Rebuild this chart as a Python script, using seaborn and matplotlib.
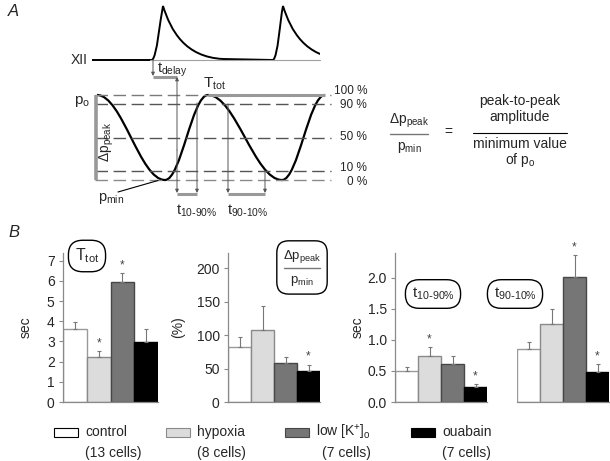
import numpy as np
import pandas as pd
import matplotlib
matplotlib.use('Agg')
import matplotlib.pyplot as plt
import seaborn as sns
from matplotlib.path import Path
from matplotlib.patches import PathPatch, Rectangle

# ---- data ----
conditions = ['control', 'hypoxia', 'low [K+]o', 'ouabain']
legend_labels = ['control', 'hypoxia', r'low [K$\mathregular{^{+}}$]$\mathregular{_{o}}$', 'ouabain']
cells = ['(13 cells)', '(8 cells)', '(7 cells)', '(7 cells)']
bar_colors = ['#ffffff', '#dcdcdc', '#767676', '#000000']
edge_colors = ['#9a9a9a', '#8a8a8a', '#474747', '#000000']

ttot_mean = [3.6, 2.23, 5.95, 2.98]
ttot_err = [0.36, 0.3, 0.44, 0.63]
ttot_sig = [False, True, True, False]

amp_mean = [82, 108, 58, 47]
amp_err = [15, 36, 10, 9]
amp_sig = [False, False, False, True]

t1090_mean = [0.5, 0.74, 0.61, 0.24]
t1090_err = [0.065, 0.15, 0.13, 0.05]
t1090_sig = [False, True, False, True]

t9010_mean = [0.86, 1.26, 2.02, 0.49]
t9010_err = [0.11, 0.24, 0.35, 0.12]
t9010_sig = [False, False, True, True]

# schematic key points (pixel space of panel A)
wave_x = [97, 165, 208, 282, 325]
wave_top, wave_bottom = 95, 180
level_y = [95, 104, 138, 171, 180]
level_text_y = [90.5, 105, 137, 167.5, 182]
level_labels = ['100 %', '90 %', '50 %', '10 %', '0 %']
level_colors = ['#7a7a7a', '#555555', '#555555', '#555555', '#8a8a8a']
burst_onset = [152, 273]
burst_peak = [163, 283]
xii_base, xii_peak = 60, 6

sns.set_theme(style='white')
plt.rcParams['font.family'] = ['Liberation Sans', 'DejaVu Sans']
plt.rcParams['mathtext.default'] = 'regular'

fig = plt.figure(figsize=(6.10, 4.61), dpi=100)
W, H = 610, 461


def add_px_axes(x0, x1, y_top, y_bot):
    return fig.add_axes([x0 / W, 1 - y_bot / H, (x1 - x0) / W, (y_bot - y_top) / H])


def bar_panel(ax, mean, err, sig, ymax, ticks, fmt, left=True):
    df = pd.DataFrame({'cond': conditions, 'val': mean})
    sns.barplot(data=df, x='cond', y='val', hue='cond', palette=bar_colors,
                width=1, saturation=1, legend=False, ax=ax, linewidth=1)
    for p, ec in zip(ax.patches, edge_colors):
        p.set_edgecolor(ec)
    x = np.arange(len(mean))
    ax.errorbar(x, mean, yerr=[np.zeros(len(err)), err], fmt='none',
                ecolor='#777777', elinewidth=0.8, capsize=1.5, capthick=0.8, zorder=1)
    for i in range(len(mean)):
        if sig[i]:
            ax.text(i, mean[i] + err[i] + ymax * 0.012, '*', ha='center', va='bottom',
                    fontsize=8.5, color='#444444')
    ax.set_xlim(-0.5, 3.5)
    ax.set_ylim(0, ymax)
    ax.set_xlabel('')
    ax.set_ylabel('')
    ax.set_xticks([])
    ax.set_facecolor('none')
    for s in ['top', 'right']:
        ax.spines[s].set_visible(False)
    ax.spines['bottom'].set_color('#8a8a8a')
    ax.spines['bottom'].set_linewidth(0.9)
    if left:
        ax.spines['left'].set_color('#8a8a8a')
        ax.spines['left'].set_linewidth(0.9)
        ax.set_yticks(ticks)
        ax.set_yticklabels([fmt.format(t) for t in ticks], fontsize=10)
        ax.tick_params(axis='y', left=True, length=3, width=0.8, color='#8a8a8a', pad=3)
    else:
        ax.spines['left'].set_visible(False)
        ax.set_yticks([])


ax1 = add_px_axes(63, 158, 253, 402)
bar_panel(ax1, ttot_mean, ttot_err, ttot_sig, 7.38, range(0, 8), '{:d}')
ax1.set_ylabel('sec', fontsize=10)
ax1.yaxis.set_label_coords(-0.32, 0.5)

ax2 = add_px_axes(228, 320, 253, 402)
bar_panel(ax2, amp_mean, amp_err, amp_sig, 223, range(0, 201, 50), '{:d}')
ax2.set_ylabel('(%)', fontsize=10)
ax2.yaxis.set_label_coords(-0.47, 0.5)

ax3 = add_px_axes(395, 487, 253, 402)
bar_panel(ax3, t1090_mean, t1090_err, t1090_sig, 2.40, [0, 0.5, 1.0, 1.5, 2.0], '{:.1f}')
ax3.set_ylabel('sec', fontsize=10)
ax3.yaxis.set_label_coords(-0.33, 0.5)

ax4 = add_px_axes(517, 609, 253, 402)
bar_panel(ax4, t9010_mean, t9010_err, t9010_sig, 2.40, [], '{}', left=False)

# ---- overlay in pixel coordinates: panel A schematic + labels ----
ov = fig.add_axes([0, 0, 1, 1], zorder=10)
ov.set_xlim(0, W)
ov.set_ylim(H, 0)
ov.axis('off')
ov.patch.set_alpha(0)

ov.text(8, 12, 'A', fontsize=12, style='italic', va='center')
ov.text(8, 232, 'B', fontsize=12, style='italic', va='center')

# XII trace
ov.plot([150, 320], [xii_base, xii_base], color='#a0a0a0', lw=0.8)
verts = [(92, xii_base)]
codes = [Path.MOVETO]
for on, pk in zip(burst_onset, burst_peak):
    verts += [(on, xii_base),
              (on + 5, xii_base - 3), (pk - 3, xii_peak + 14), (pk, xii_peak),
              (pk + 8, xii_peak + 25), (pk + 22, xii_base - 3), (pk + 60, xii_base - 1)]
    codes += [Path.LINETO, Path.CURVE4, Path.CURVE4, Path.CURVE4,
              Path.CURVE4, Path.CURVE4, Path.CURVE4]
xii = PathPatch(Path(verts, codes), fill=False, lw=1.4, color='black')
ov.add_patch(xii)
xii.set_clip_path(Rectangle((0, 0), 320, H, transform=ov.transData))
ov.text(88, xii_base, 'XII', ha='right', va='center', fontsize=10)

# level lines
for y, ty, lab, c in zip(level_y, level_text_y, level_labels, level_colors):
    ov.plot([95, 331], [y, y], color=c, lw=1.0, dashes=(9, 4))
    ov.text(367, ty, lab, ha='right', va='center', fontsize=8.5)

# pressure wave
verts = [(wave_x[0], wave_top)]
codes = [Path.MOVETO]
for i in range(1, len(wave_x)):
    x0, x1 = wave_x[i - 1], wave_x[i]
    y0 = wave_top if i % 2 == 1 else wave_bottom
    y1 = wave_bottom if i % 2 == 1 else wave_top
    k = 0.37 * (x1 - x0)
    verts += [(x0 + k, y0), (x1 - k, y1), (x1, y1)]
    codes += [Path.CURVE4] * 3
ov.add_patch(PathPatch(Path(verts, codes), fill=False, lw=1.6, color='black'))

gray = '#999999'
ov.plot([96, 96], [wave_top, wave_bottom], color=gray, lw=2.6, solid_capstyle='butt')
ov.plot([208, 325], [wave_top, wave_top], color=gray, lw=2.2, solid_capstyle='butt')
ov.text(82, 101, r'$\mathregular{p_{o}}$', ha='center', va='center', fontsize=11)
ov.text(107, 142, r'$\mathregular{\Delta p_{peak}}$', ha='center', va='center',
        fontsize=10, rotation=90)
ov.text(203, 84, r'$\mathregular{T_{tot}}$', ha='left', va='center', fontsize=11)
ov.plot([118, 158], [192, 180.5], color='black', lw=0.8)
ov.text(98, 198, r'$\mathregular{p_{min}}$', ha='left', va='center', fontsize=10.5)

arrow = dict(arrowstyle='-|>', lw=0.7, color='#555555', mutation_scale=5,
             shrinkA=0, shrinkB=0)
# t_delay
ov.annotate('', xy=(153, 76), xytext=(153, xii_base), arrowprops=arrow)
ov.plot([153, 177], [77, 77], color=gray, lw=2.2, solid_capstyle='butt')
ov.annotate('', xy=(177, 77), xytext=(177, 150), arrowprops=arrow)
ov.text(157, 70, r'$\mathregular{t_{delay}}$', ha='left', va='center', fontsize=10.5)
# rise / fall times
for x, ytop in [(177, 150), (197, 103), (228, 104), (265, 171)]:
    ov.annotate('', xy=(x, 193), xytext=(x, ytop), arrowprops=arrow)
ov.plot([177, 197], [194, 194], color=gray, lw=2.2, solid_capstyle='butt')
ov.plot([228, 265], [194, 194], color=gray, lw=2.2, solid_capstyle='butt')
ov.text(176, 211, r'$\mathregular{t_{10\text{-}90\%}}$', ha='left', va='center', fontsize=10.5)
ov.text(227, 211, r'$\mathregular{t_{90\text{-}10\%}}$', ha='left', va='center', fontsize=10.5)

# ratio definition
ov.text(409, 121, r'$\mathregular{\Delta p_{peak}}$', ha='center', va='center', fontsize=10)
ov.plot([390, 428], [134, 134], color='#777777', lw=1)
ov.text(409, 147, r'$\mathregular{p_{min}}$', ha='center', va='center', fontsize=10)
ov.text(448, 132, '=', ha='center', va='center', fontsize=10)
ov.text(520, 101, 'peak-to-peak', ha='center', va='center', fontsize=10)
ov.text(520, 117, 'amplitude', ha='center', va='center', fontsize=10)
ov.plot([473, 567], [133, 133], color='black', lw=0.8)
ov.text(520, 144, 'minimum value', ha='center', va='center', fontsize=10)
ov.text(520, 160, r'of $\mathregular{p_{o}}$', ha='center', va='center', fontsize=10)

# boxed panel titles
box = dict(boxstyle='round,pad=0.4,rounding_size=0.9', fc='white', ec='black', lw=1)
ov.text(87, 256, r'$\mathregular{T_{tot}}$', ha='center', va='center', fontsize=11.5, bbox=box)
ov.text(433, 294, r'$\mathregular{t_{10\text{-}90\%}}$', ha='center', va='center', fontsize=11, bbox=box)
ov.text(515, 294, r'$\mathregular{t_{90\text{-}10\%}}$', ha='center', va='center', fontsize=11, bbox=box)
box2 = dict(boxstyle='round,pad=0.45,rounding_size=0.9', fc='white', ec='black', lw=1)
ov.text(302, 268, r'$\mathregular{\Delta p_{peak}}$' + '\n\n' + r'$\mathregular{p_{min}}$',
        ha='center', va='center', fontsize=9.5, bbox=box2, linespacing=0.85)
ov.plot([284, 320], [268, 268], color='#777777', lw=1, zorder=5)

# legend
leg_x = [54, 166, 285, 411]
for x, lab, c, ec, n in zip(leg_x, legend_labels, bar_colors, edge_colors, cells):
    ov.add_patch(Rectangle((x, 428), 24, 9, fc=c, ec=ec if c != '#ffffff' else 'black', lw=0.8))
    ov.text(x + 31, 432, lab, ha='left', va='center', fontsize=10)
    ov.text(x + 31 + (6 if 'K' in lab else 0), 453, n, ha='left', va='center', fontsize=10)

fig.savefig('out.png', dpi=100)
